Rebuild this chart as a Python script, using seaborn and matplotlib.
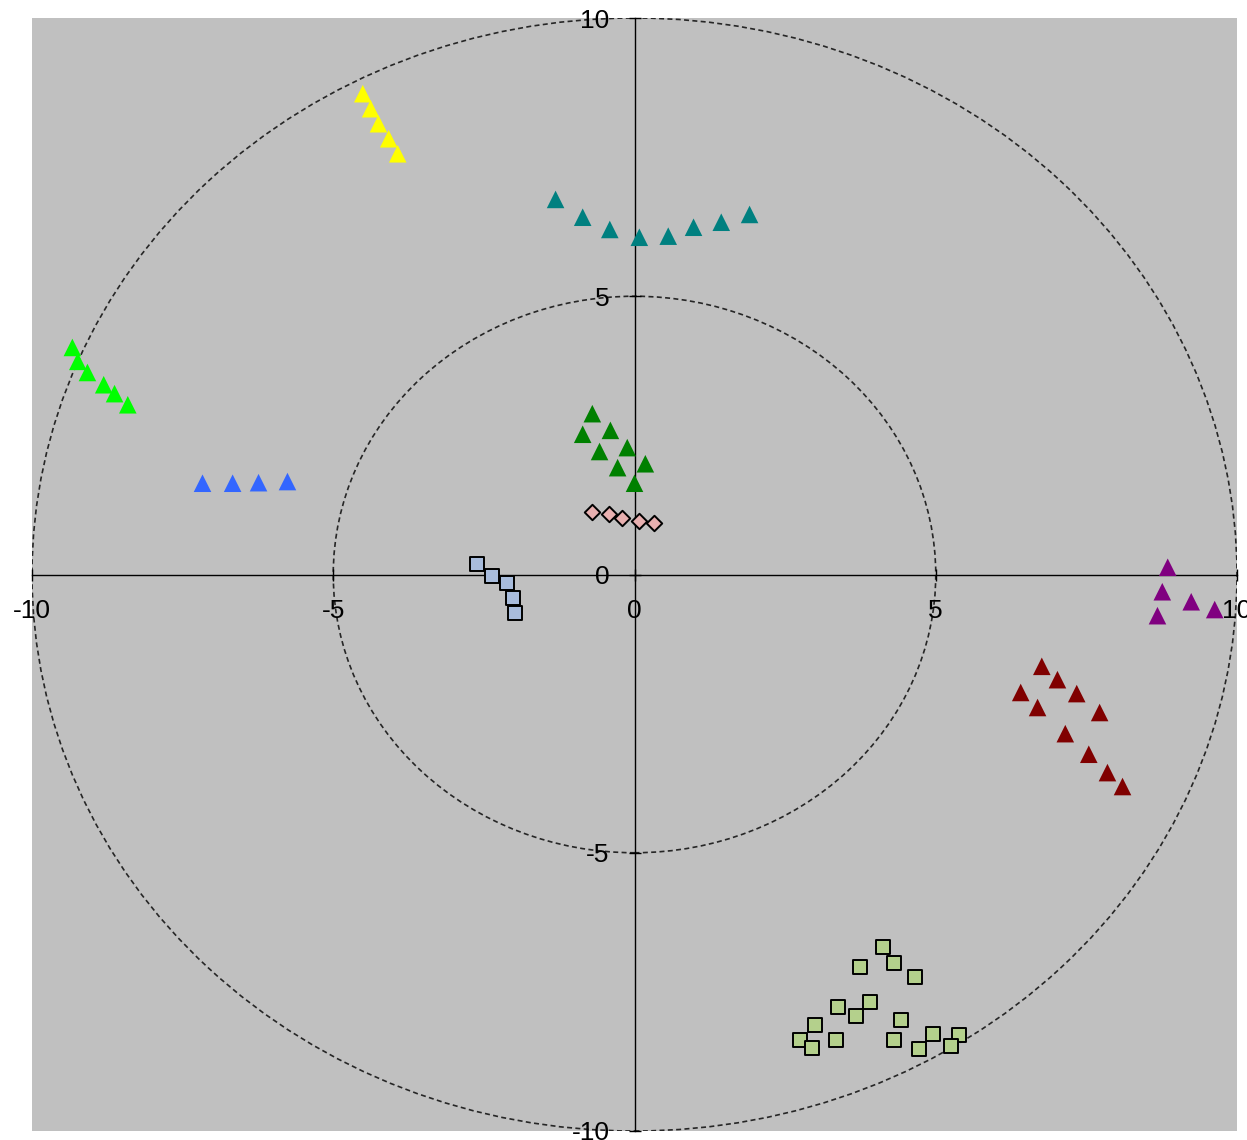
import matplotlib
matplotlib.use("Agg")
import matplotlib.pyplot as plt
from matplotlib.patches import Circle
import seaborn as sns
import pandas as pd

# 그룹별 좌표
yellow_x = [-4.51, -4.38, -4.25, -4.08, -3.93]
yellow_y = [8.64, 8.37, 8.10, 7.83, 7.56]

teal_x = [-1.31, -0.86, -0.41, 0.08, 0.56, 0.98, 1.44, 1.91]
teal_y = [6.74, 6.42, 6.20, 6.06, 6.08, 6.24, 6.33, 6.47]

lime_x = [-9.33, -9.24, -9.08, -8.81, -8.63, -8.41]
lime_y = [4.08, 3.83, 3.63, 3.41, 3.25, 3.05]

blue_x = [-7.17, -6.67, -6.24, -5.76]
blue_y = [1.64, 1.64, 1.65, 1.67]

green_x = [-0.70, -0.86, -0.40, -0.58, -0.12, -0.28, 0.18, 0.0]
green_y = [2.89, 2.52, 2.59, 2.21, 2.28, 1.92, 1.99, 1.64]

pink_x = [-0.70, -0.43, -0.20, 0.07, 0.33]
pink_y = [1.13, 1.08, 1.02, 0.97, 0.92]

lightblue_x = [-2.61, -2.37, -2.12, -2.02, -1.99]
lightblue_y = [0.18, -0.02, -0.16, -0.43, -0.70]

purple_x = [8.85, 8.76, 9.24, 9.63, 8.68]
purple_y = [0.13, -0.31, -0.49, -0.63, -0.74]

darkred_x = [6.76, 7.02, 6.41, 7.34, 6.69, 7.72, 7.15, 7.54, 7.85, 8.10]
darkred_y = [-1.65, -1.89, -2.12, -2.14, -2.39, -2.48, -2.86, -3.23, -3.56, -3.81]

lightgreen_x = [4.12, 3.75, 4.30, 4.66, 3.37, 3.91, 3.67, 4.42, 3.00,
                3.34, 4.95, 5.39, 2.74, 2.95, 4.30, 4.73, 5.26]
lightgreen_y = [-6.70, -7.06, -6.99, -7.23, -7.78, -7.69, -7.94, -8.01, -8.09,
                -8.37, -8.25, -8.27, -8.36, -8.50, -8.37, -8.53, -8.48]

ticks = [-10, -5, 0, 5, 10]
radii = [5, 10]

# (x, y, 색, 마커, 크기, 테두리)
groups = [
    (yellow_x, yellow_y, "#FFFF00", "^", 160, "none"),
    (teal_x, teal_y, "#008080", "^", 160, "none"),
    (lime_x, lime_y, "#00FF00", "^", 160, "none"),
    (blue_x, blue_y, "#3366FF", "^", 160, "none"),
    (green_x, green_y, "#008000", "^", 160, "none"),
    (purple_x, purple_y, "#800080", "^", 160, "none"),
    (darkred_x, darkred_y, "#800000", "^", 160, "none"),
    (pink_x, pink_y, "#E8B0B0", "D", 62, "black"),
    (lightblue_x, lightblue_y, "#A8BCDC", "s", 100, "black"),
    (lightgreen_x, lightgreen_y, "#B4D08C", "s", 100, "black"),
]

plt.rcParams['font.family'] = ['Liberation Sans', 'DejaVu Sans']

fig = plt.figure(figsize=(12.47, 11.40), dpi=100)
ax = fig.add_axes([32 / 1247, 9 / 1140, 1205 / 1247, 1113 / 1140])
ax.set_facecolor("#C0C0C0")

# 점선 원
for r in radii:
    ax.add_patch(Circle((0, 0), r, fill=False, ls=(0, (3, 2)),
                        lw=1.2, ec="#262626", zorder=1))

for gx, gy, col, mk, sz, ec in groups:
    df = pd.DataFrame({"x": gx, "y": gy})
    sns.scatterplot(data=df, x="x", y="y", color=col, marker=mk, s=sz,
                    edgecolor=ec, linewidth=1.4 if ec != "none" else 0,
                    ax=ax, zorder=3)

ax.set_xlim(-10, 10)
ax.set_ylim(-10, 10)
ax.set_xlabel("")
ax.set_ylabel("")

ax.spines['left'].set_position(('data', 0))
ax.spines['bottom'].set_position(('data', 0))
ax.spines['top'].set_visible(False)
ax.spines['right'].set_visible(False)
for s in ['left', 'bottom']:
    ax.spines[s].set_linewidth(1.0)
    ax.spines[s].set_zorder(2)

ax.set_xticks(ticks)
ax.set_yticks(ticks)
ax.set_xticklabels([str(t) for t in ticks])
ax.set_yticklabels([str(t) for t in ticks])
ax.tick_params(axis='x', direction='inout', length=8, width=1,
               labelsize=19, pad=14)
ax.tick_params(axis='y', direction='inout', length=8, width=1,
               labelsize=19, pad=14)

fig.savefig("out.png", dpi=100)
